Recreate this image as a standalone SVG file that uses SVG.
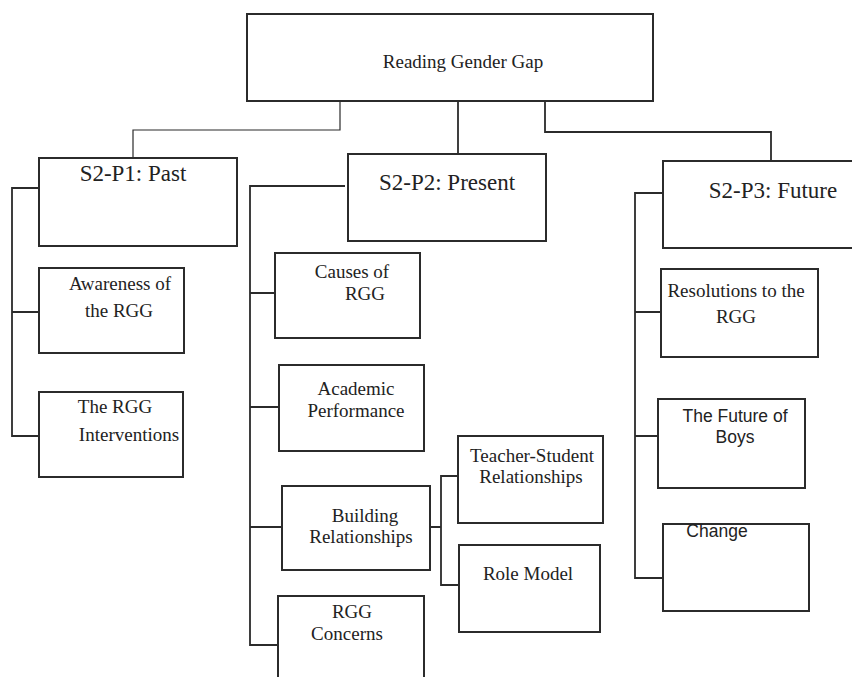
<svg xmlns="http://www.w3.org/2000/svg" width="852" height="677" viewBox="0 0 852 677">
<style>
.box{fill:#fff;stroke:#2b2b2b;stroke-width:2}
.con{fill:none;stroke:#2b2b2b;stroke-width:1.8}
.thin{stroke-width:1.2}
text{fill:#222;text-anchor:middle;font-family:"Liberation Serif","Times New Roman",serif;font-size:19px}
.h{font-size:23px}
.sans{font-family:"Liberation Sans",Arial,sans-serif;font-size:17.5px}
</style>
<rect width="852" height="677" fill="#fff"/>
<g id="connectors">
<path class="con thin" d="M340 101V130H133V158"/>
<path class="con" d="M458 101V154"/>
<path class="con" d="M545 101V132H771V161"/>
<path class="con" d="M39 188H12V436H39M12 312H39"/>
<path class="con" d="M345 186H250V645H278M250 293H275M250 407H279M250 527H282"/>
<path class="con" d="M430 527H441M458 476H441V585H459"/>
<path class="con" d="M663 193H635V578H663M635 312H661M635 436H658"/>
</g>
<g id="root"><rect class="box" x="247" y="14" width="406" height="87"/><text x="463" y="68">Reading Gender Gap</text></g>
<g id="p1"><rect class="box" x="39" y="158" width="198" height="88"/><text class="h" x="133" y="181">S2-P1: Past</text></g>
<g id="awareness"><rect class="box" x="39" y="268" width="145" height="85"/><text x="120" y="290">Awareness of</text><text x="119" y="317">the RGG</text></g>
<g id="interventions"><rect class="box" x="39" y="392" width="144" height="85"/><text x="115" y="413">The RGG</text><text x="129" y="441">Interventions</text></g>
<g id="p2"><rect class="box" x="348" y="154" width="198" height="87"/><text class="h" x="447" y="190">S2-P2: Present</text></g>
<g id="causes"><rect class="box" x="275" y="253" width="145" height="85"/><text x="352" y="278">Causes of</text><text x="365" y="300">RGG</text></g>
<g id="academic"><rect class="box" x="279" y="365" width="145" height="86"/><text x="356" y="395">Academic</text><text x="356" y="417">Performance</text></g>
<g id="building"><rect class="box" x="282" y="486" width="148" height="84"/><text x="365" y="522">Building</text><text x="361" y="543">Relationships</text></g>
<g id="teacher"><rect class="box" x="458" y="436" width="145" height="87"/><text x="532" y="462">Teacher-Student</text><text x="531" y="483">Relationships</text></g>
<g id="rolemodel"><rect class="box" x="459" y="545" width="141" height="87"/><text x="528" y="580">Role Model</text></g>
<g id="concerns"><rect class="box" x="278" y="596" width="146" height="110"/><text x="352" y="618">RGG</text><text x="347" y="640">Concerns</text></g>
<g id="p3"><rect class="box" x="663" y="161" width="220" height="87"/><text class="h" x="773" y="198">S2-P3: Future</text></g>
<g id="resolutions"><rect class="box" x="661" y="269" width="157" height="88"/><text x="736" y="297">Resolutions to the</text><text x="736" y="323">RGG</text></g>
<g id="future"><rect class="box" x="658" y="399" width="147" height="89"/><text class="sans" x="735" y="422">The Future of</text><text class="sans" x="735" y="443">Boys</text></g>
<g id="change"><rect class="box" x="663" y="524" width="146" height="87"/><text class="sans" x="717" y="537">Change</text></g>
</svg>
